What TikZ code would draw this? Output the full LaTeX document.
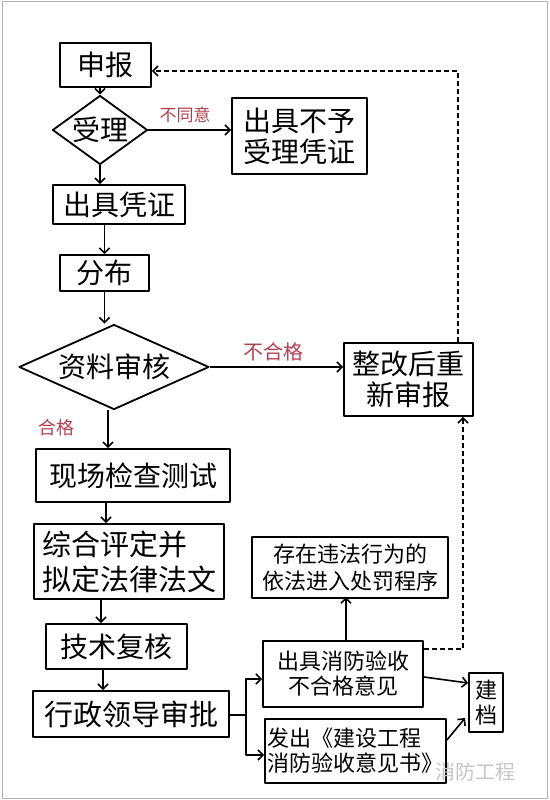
\documentclass[tikz,border=0pt]{standalone}
\usepackage{fontspec}
\setmainfont{Noto Sans CJK SC}
\usetikzlibrary{shapes.geometric,arrows.meta}
\definecolor{labred}{RGB}{178,64,80}
\tikzset{
  box/.style={draw, line width=1.8pt, inner sep=0pt, font=\fontsize{28}{31}\selectfont},
  smallbox/.style={draw, line width=1.8pt, inner sep=0pt, font=\fontsize{22}{25}\selectfont},
  decide/.style={draw, diamond, line width=1.8pt, inner sep=0pt, font=\fontsize{28}{31}\selectfont},
  lab/.style={text=labred, inner sep=0pt},
  flow/.style={->, line width=1.6pt},
  back/.style={->, line width=1.6pt, dash pattern=on 5pt off 3pt},
}
\begin{document}
\begin{tikzpicture}[x=1pt, y=-1pt, >={Straight Barb[length=5pt,width=10pt]}, line join=round]
\useasboundingbox (0,0) rectangle (549,800);
\draw[gray!60, line width=1pt] (2,1.5) rectangle (547.5,798);
% left column
\node[box, minimum width=91pt, minimum height=44pt] (sb) at (105.5,65) {申报};
\node[decide, minimum width=95pt, minimum height=69pt, aspect=1.38] (sl) at (100,130) {受理};
\node[box, minimum width=135pt, minimum height=76pt, align=center] (bsl) at (299.5,136) {出具不予\\受理凭证};
\node[box, minimum width=132pt, minimum height=39pt] (cj) at (119,204.5) {出具凭证};
\node[box, minimum width=89pt, minimum height=36pt] (fb) at (104.5,273) {分布};
\node[decide, minimum width=190pt, minimum height=85pt, aspect=2.24] (zl) at (114,367) {资料审核};
\node[box, minimum width=129pt, minimum height=73pt, align=center] (zg) at (408.5,379.5) {整改后重\\新审报};
\node[box, minimum width=194pt, minimum height=53pt] (xc) at (133,475.5) {现场检查测试};
\node[box, minimum width=190pt, minimum height=75pt, align=left, font=\fontsize{29}{35}\selectfont] (zh) at (129,561.5) {综合评定并\\拟定法律法文};
\node[box, minimum width=141pt, minimum height=45pt] (js) at (116.5,646.5) {技术复核};
\node[box, minimum width=196pt, minimum height=46pt, font=\fontsize{29}{31}\selectfont] (xz) at (131,714) {行政领导审批};
% right column
\node[smallbox, minimum width=196pt, minimum height=61pt, align=center, font=\fontsize{22}{27}\selectfont] (wf) at (350,567.5) {存在违法行为的\\依法进入处罚程序};
\node[smallbox, minimum width=160pt, minimum height=66pt, align=center] (bh) at (343,674) {出具消防验收\\不合格意见};
\node[smallbox, minimum width=181pt, minimum height=64pt, align=left] (ff) at (355.5,751) {发出《建设工程\\消防验收意见书》};
\node[smallbox, minimum width=34pt, minimum height=59pt, align=center] (jd) at (486,702.5) {建\\档};
% labels
\node[lab, font=\fontsize{17}{17}\selectfont] (ltyy) at (185,115) {不同意};
\node[lab, font=\fontsize{20}{20}\selectfont] (lbhg) at (273,352) {不合格};
\node[lab, font=\fontsize{18}{18}\selectfont] (lhg) at (56,428) {合格};
\node[text=gray!45, inner sep=0pt, font=\fontsize{20}{20}\selectfont] (wm) at (475,772) {消防工程};
% connectors
\draw[flow] (sb.south -| sl.north) -- (sl.north);
\draw[flow] (sl.east) -- (sl.east -| bsl.west);
\draw[flow] (sl.south) -- (sl.south |- cj.north);
\draw[flow] (cj.south -| fb.north) -- (fb.north);
\draw[flow] (fb.south) -- (fb.south |- zl.north);
\draw[flow] (zl.east) -- (zl.east -| zg.west);
\draw[flow] ([xshift=-6pt]zl.south) -- ([xshift=-6pt]zl.south |- xc.north);
\draw[flow] ([xshift=-27pt]xc.south) -- ([xshift=-27pt]xc.south |- zh.north);
\draw[flow] ([xshift=-28pt]zh.south) -- ([xshift=-28pt]zh.south |- js.north);
\draw[flow] ([xshift=-13.5pt]js.south) -- ([xshift=-13.5pt]js.south |- xz.north);
\coordinate (br) at (246,715);
\draw[line width=1.6pt] ([yshift=-1pt]xz.east) -- (br);
\draw[flow] (br) |- ([yshift=-5pt]bh.west);
\draw[flow] (br) |- ([yshift=-4pt]ff.west);
\draw[flow] (bh.north -| wf.south) ++(-4,0) -- ++(0,-43);
\draw[flow] ([yshift=-3pt]bh.east) -- ([yshift=19.5pt]jd.west);
\draw[flow] ([yshift=11pt]ff.east) -- ([xshift=-3pt, yshift=-15.5pt]jd.west);
\draw[back] ([yshift=25pt]bh.east) -| ([xshift=54.5pt]zg.south);
\draw[back] ([xshift=49.5pt]zg.north) |- ([yshift=-6pt]sb.east);
\end{tikzpicture}
\end{document}
